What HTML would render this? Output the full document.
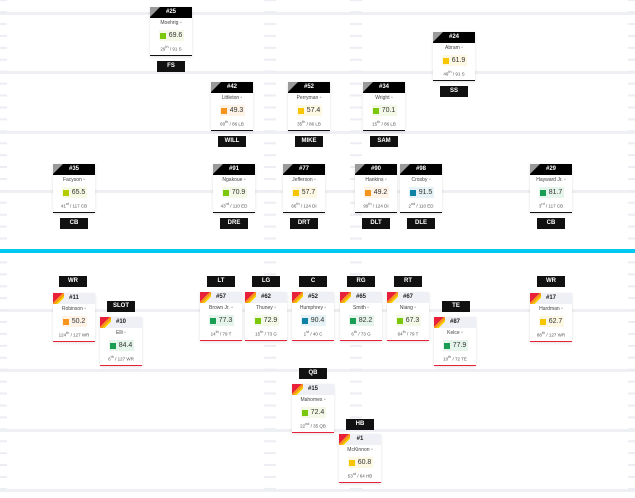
<!DOCTYPE html>
<html><head><style>
body{margin:0;width:635px;height:498px;background:#fff;position:relative;overflow:hidden;font-family:"Liberation Sans",sans-serif}
.c{position:absolute;width:42px;height:48px;background:#fff;box-shadow:0 1px 3px rgba(0,0,0,.12);text-align:center;color:#444}
.d{border-bottom:1.5px solid #111}
.o{border-bottom:1.5px solid #e8203a}
.h{height:11px;line-height:11px;font-size:6px;font-weight:bold;position:relative;overflow:hidden}
.d .h{background:#000;color:#fff}
.d .h:before{content:"";position:absolute;left:0;top:0;border-top:10px solid #9a9a9a;border-right:10px solid transparent}
.o .h{background:#eef0f5;color:#222}
.o .h:before{content:"";position:absolute;left:0;top:0;width:11px;height:11px;background:linear-gradient(135deg,#e8203a 0,#e8203a 45%,#f7941d 45%,#f7941d 60%,#f7d000 60%,#f7d000 72%,transparent 72%)}
.n{font-size:5px;margin-top:2px;height:7px;line-height:7px}
.s{margin:3px auto 0;width:25px;height:11px;line-height:11px;font-size:7px;color:#333;display:flex;align-items:center;justify-content:center;gap:3px}
.s i{display:inline-block;width:6px;height:6px}
.r{font-size:4.5px;margin-top:4px;color:#555}
.l{position:absolute;width:28px;height:11px;line-height:11px;background:#111;color:#fff;font-size:6px;font-weight:bold;text-align:center}
</style></head><body>
<svg width="635" height="498" style="position:absolute;left:0;top:0">
<g fill="#eff0f4">
<rect x="0" y="12" width="635" height="3"/><rect x="0" y="71" width="635" height="3"/><rect x="0" y="131" width="635" height="3"/><rect x="0" y="190" width="635" height="3"/><rect x="0" y="309" width="635" height="3"/><rect x="0" y="369" width="635" height="3"/><rect x="0" y="429" width="635" height="3"/><rect x="0" y="489" width="635" height="3"/>
</g>
<g stroke="#eceef3" stroke-dasharray="2 9.92" stroke-dashoffset="-23">
<line x1="3.5" y1="0" x2="3.5" y2="498" stroke-width="7"/>
<line x1="270" y1="0" x2="270" y2="498" stroke-width="12"/>
<line x1="356" y1="0" x2="356" y2="498" stroke-width="12"/>
<line x1="631.5" y1="0" x2="631.5" y2="498" stroke-width="7"/>
</g>
<rect x="0" y="249" width="635" height="4" fill="#00c8f0"/>
</svg>

<div class="c d" style="left:150px;top:7px"><div class="h">#25</div><div class="n">Moehrig ▫</div><div class="s" style="background:#f3f9e6"><i style="background:#7ac70c"></i>69.6</div><div class="r">29<sup>th</sup> / 91 S</div></div>
<div class="l" style="left:157px;top:61px">FS</div>
<div class="c d" style="left:433px;top:32px"><div class="h">#24</div><div class="n">Abram ▫</div><div class="s" style="background:#fdf8e3"><i style="background:#f7c600"></i>61.9</div><div class="r">49<sup>th</sup> / 91 S</div></div>
<div class="l" style="left:440px;top:86px">SS</div>

<div class="c d" style="left:211px;top:82px"><div class="h">#42</div><div class="n">Littleton ▫</div><div class="s" style="background:#fef3e6"><i style="background:#f7941d"></i>49.3</div><div class="r">60<sup>th</sup> / 86 LB</div></div>
<div class="l" style="left:218px;top:136px">WILL</div>
<div class="c d" style="left:288px;top:82px"><div class="h">#52</div><div class="n">Perryman ▫</div><div class="s" style="background:#fdf8e3"><i style="background:#f7c600"></i>57.4</div><div class="r">35<sup>th</sup> / 86 LB</div></div>
<div class="l" style="left:295px;top:136px">MIKE</div>
<div class="c d" style="left:363px;top:82px"><div class="h">#34</div><div class="n">Wright ▫</div><div class="s" style="background:#f3f9e6"><i style="background:#7ac70c"></i>70.1</div><div class="r">15<sup>th</sup> / 86 LB</div></div>
<div class="l" style="left:370px;top:136px">SAM</div>

<div class="c d" style="left:53px;top:164px"><div class="h">#35</div><div class="n">Facyson ▫</div><div class="s" style="background:#f6f9e3"><i style="background:#b5cc00"></i>65.5</div><div class="r">41<sup>st</sup> / 117 CB</div></div>
<div class="l" style="left:60px;top:218px">CB</div>
<div class="c d" style="left:213px;top:164px"><div class="h">#91</div><div class="n">Ngakoue ▫</div><div class="s" style="background:#f3f9e6"><i style="background:#7ac70c"></i>70.9</div><div class="r">43<sup>rd</sup> / 110 ED</div></div>
<div class="l" style="left:220px;top:218px">DRE</div>
<div class="c d" style="left:283px;top:164px"><div class="h">#77</div><div class="n">Jefferson ▫</div><div class="s" style="background:#fdf8e3"><i style="background:#f7c600"></i>57.7</div><div class="r">66<sup>th</sup> / 124 DI</div></div>
<div class="l" style="left:290px;top:218px">DRT</div>
<div class="c d" style="left:355px;top:164px"><div class="h">#90</div><div class="n">Hankins ▫</div><div class="s" style="background:#fef3e6"><i style="background:#f7941d"></i>49.2</div><div class="r">99<sup>th</sup> / 124 DI</div></div>
<div class="l" style="left:362px;top:218px">DLT</div>
<div class="c d" style="left:400px;top:164px"><div class="h">#98</div><div class="n">Crosby ▫</div><div class="s" style="background:#e6f2f6"><i style="background:#0f83a5"></i>91.5</div><div class="r">2<sup>nd</sup> / 110 ED</div></div>
<div class="l" style="left:407px;top:218px">DLE</div>
<div class="c d" style="left:530px;top:164px"><div class="h">#29</div><div class="n">Hayward Jr. ▫</div><div class="s" style="background:#e6f5ec"><i style="background:#1a9e53"></i>81.7</div><div class="r">3<sup>rd</sup> / 117 CB</div></div>
<div class="l" style="left:537px;top:218px">CB</div>

<div class="l" style="left:59px;top:276px">WR</div>
<div class="c o" style="left:53px;top:293px"><div class="h">#11</div><div class="n">Robinson ▫</div><div class="s" style="background:#fef3e6"><i style="background:#f7941d"></i>50.2</div><div class="r">124<sup>th</sup> / 127 WR</div></div>
<div class="l" style="left:107px;top:301px">SLOT</div>
<div class="c o" style="left:100px;top:317px"><div class="h">#10</div><div class="n">Elli ▫</div><div class="s" style="background:#e6f5ec"><i style="background:#1a9e53"></i>84.4</div><div class="r">6<sup>th</sup> / 127 WR</div></div>

<div class="l" style="left:207px;top:276px">LT</div>
<div class="c o" style="left:200px;top:292px"><div class="h">#57</div><div class="n">Brown Jr. ▫</div><div class="s" style="background:#e6f5ec"><i style="background:#1a9e53"></i>77.3</div><div class="r">14<sup>th</sup> / 79 T</div></div>
<div class="l" style="left:252px;top:276px">LG</div>
<div class="c o" style="left:245px;top:292px"><div class="h">#62</div><div class="n">Thuney ▫</div><div class="s" style="background:#f3f9e6"><i style="background:#7ac70c"></i>72.9</div><div class="r">15<sup>th</sup> / 73 G</div></div>
<div class="l" style="left:299px;top:276px">C</div>
<div class="c o" style="left:292px;top:292px"><div class="h">#52</div><div class="n">Humphrey ▫</div><div class="s" style="background:#e6f2f6"><i style="background:#0f83a5"></i>90.4</div><div class="r">1<sup>st</sup> / 40 C</div></div>
<div class="l" style="left:347px;top:276px">RG</div>
<div class="c o" style="left:340px;top:292px"><div class="h">#65</div><div class="n">Smith ▫</div><div class="s" style="background:#e6f5ec"><i style="background:#1a9e53"></i>82.2</div><div class="r">6<sup>th</sup> / 73 G</div></div>
<div class="l" style="left:394px;top:276px">RT</div>
<div class="c o" style="left:387px;top:292px"><div class="h">#67</div><div class="n">Niang ▫</div><div class="s" style="background:#f3f9e6"><i style="background:#7ac70c"></i>67.3</div><div class="r">64<sup>th</sup> / 79 T</div></div>
<div class="l" style="left:442px;top:301px">TE</div>
<div class="c o" style="left:434px;top:317px"><div class="h">#87</div><div class="n">Kelce ▫</div><div class="s" style="background:#e6f5ec"><i style="background:#1a9e53"></i>77.9</div><div class="r">10<sup>th</sup> / 72 TE</div></div>
<div class="l" style="left:537px;top:276px">WR</div>
<div class="c o" style="left:530px;top:293px"><div class="h">#17</div><div class="n">Hardman ▫</div><div class="s" style="background:#fdf8e3"><i style="background:#f7c600"></i>62.7</div><div class="r">88<sup>th</sup> / 127 WR</div></div>

<div class="l" style="left:299px;top:368px">QB</div>
<div class="c o" style="left:292px;top:384px"><div class="h">#15</div><div class="n">Mahomes ▫</div><div class="s" style="background:#f3f9e6"><i style="background:#7ac70c"></i>72.4</div><div class="r">22<sup>nd</sup> / 35 QB</div></div>
<div class="l" style="left:346px;top:419px">HB</div>
<div class="c o" style="left:339px;top:434px"><div class="h">#1</div><div class="n">McKinnon ▫</div><div class="s" style="background:#fdf8e3"><i style="background:#f7c600"></i>60.8</div><div class="r">53<sup>rd</sup> / 64 HB</div></div>
</body></html>
